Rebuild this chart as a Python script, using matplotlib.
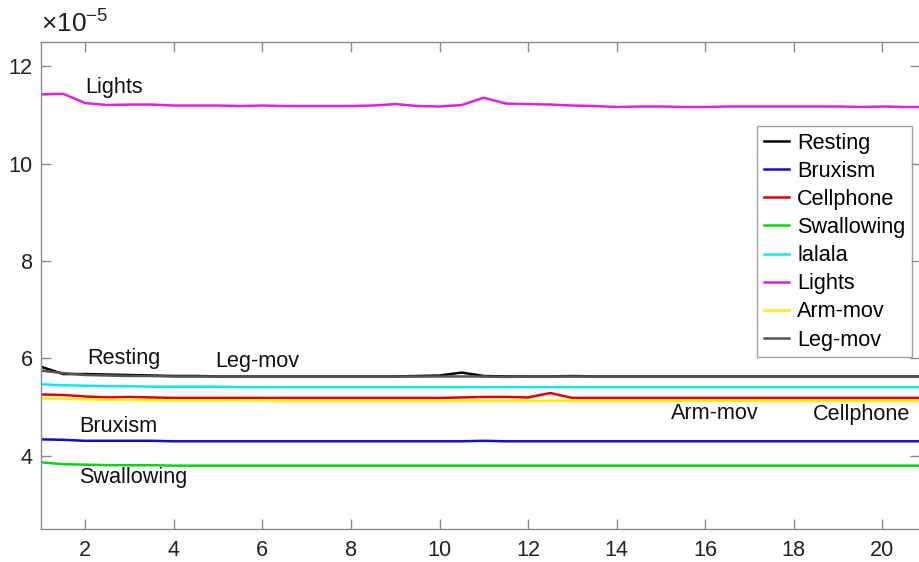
import numpy as np
import matplotlib
matplotlib.use("Agg")
import matplotlib.pyplot as plt
from matplotlib.ticker import FuncFormatter

plt.rcParams['font.family'] = ['Liberation Sans', 'DejaVu Sans']
plt.rcParams['mathtext.fontset'] = 'custom'
plt.rcParams['mathtext.rm'] = 'Liberation Sans'
plt.rcParams['mathtext.it'] = 'Liberation Sans'

epochs = [1, 1.5, 2, 2.5, 3, 3.5, 4, 4.5, 5, 5.5, 6, 6.5, 7, 7.5, 8, 8.5, 9, 9.5, 10, 10.5,
          11, 11.5, 12, 12.5, 13, 13.5, 14, 14.5, 15, 15.5, 16, 16.5, 17, 17.5, 18, 18.5,
          19, 19.5, 20, 20.5, 21]

# values in units of 1e-5
resting = [5.83, 5.68, 5.68, 5.67, 5.66, 5.65, 5.64, 5.64, 5.63, 5.63, 5.63, 5.63, 5.63, 5.63,
           5.63, 5.63, 5.63, 5.64, 5.65, 5.71, 5.64, 5.63, 5.63, 5.63, 5.64, 5.63, 5.63, 5.63,
           5.63, 5.63, 5.63, 5.63, 5.63, 5.63, 5.63, 5.63, 5.63, 5.63, 5.63, 5.63, 5.63]
bruxism = [4.34, 4.33, 4.31, 4.31, 4.31, 4.31, 4.30, 4.30, 4.30, 4.30, 4.30, 4.30, 4.30, 4.30,
           4.30, 4.30, 4.30, 4.30, 4.30, 4.30, 4.31, 4.30, 4.30, 4.30, 4.30, 4.30, 4.30, 4.30,
           4.30, 4.30, 4.30, 4.30, 4.30, 4.30, 4.30, 4.30, 4.30, 4.30, 4.30, 4.30, 4.30]
cellphone = [5.26, 5.25, 5.22, 5.20, 5.21, 5.20, 5.19, 5.19, 5.19, 5.19, 5.19, 5.19, 5.19, 5.19,
             5.19, 5.19, 5.19, 5.19, 5.19, 5.20, 5.21, 5.21, 5.20, 5.29, 5.19, 5.19, 5.19, 5.19,
             5.19, 5.19, 5.19, 5.19, 5.19, 5.19, 5.19, 5.19, 5.19, 5.19, 5.19, 5.19, 5.19]
swallowing = [3.87, 3.83, 3.82, 3.81, 3.81, 3.81, 3.80, 3.80, 3.80, 3.80, 3.80, 3.80, 3.80, 3.80,
              3.80, 3.80, 3.80, 3.80, 3.80, 3.80, 3.80, 3.80, 3.80, 3.80, 3.80, 3.80, 3.80, 3.80,
              3.80, 3.80, 3.80, 3.80, 3.80, 3.80, 3.80, 3.80, 3.80, 3.80, 3.80, 3.80, 3.80]
lalala = [5.47, 5.45, 5.44, 5.43, 5.43, 5.42, 5.42, 5.42, 5.42, 5.41, 5.41, 5.41, 5.41, 5.41,
          5.41, 5.41, 5.41, 5.41, 5.41, 5.41, 5.41, 5.41, 5.41, 5.41, 5.41, 5.41, 5.41, 5.41,
          5.41, 5.41, 5.41, 5.41, 5.41, 5.41, 5.41, 5.41, 5.41, 5.41, 5.41, 5.41, 5.41]
lights = [11.42, 11.43, 11.24, 11.20, 11.21, 11.21, 11.19, 11.19, 11.19, 11.18, 11.19, 11.18,
          11.18, 11.18, 11.18, 11.19, 11.22, 11.18, 11.17, 11.20, 11.35, 11.23, 11.22, 11.21,
          11.19, 11.18, 11.16, 11.17, 11.17, 11.16, 11.16, 11.17, 11.17, 11.17, 11.17, 11.17,
          11.17, 11.16, 11.17, 11.16, 11.16]
armmov = [5.18, 5.17, 5.16, 5.15, 5.15, 5.14, 5.14, 5.14, 5.14, 5.14, 5.14, 5.13, 5.13, 5.13,
          5.13, 5.13, 5.13, 5.13, 5.13, 5.13, 5.13, 5.13, 5.13, 5.13, 5.13, 5.13, 5.13, 5.13,
          5.13, 5.13, 5.13, 5.13, 5.13, 5.13, 5.13, 5.13, 5.13, 5.13, 5.13, 5.13, 5.13]
legmov = [5.75, 5.70, 5.66, 5.65, 5.64, 5.64, 5.63, 5.63, 5.63, 5.63, 5.63, 5.63, 5.63, 5.63,
          5.63, 5.63, 5.63, 5.63, 5.63, 5.63, 5.63, 5.62, 5.63, 5.63, 5.63, 5.63, 5.63, 5.63,
          5.63, 5.63, 5.63, 5.63, 5.63, 5.63, 5.63, 5.63, 5.63, 5.63, 5.63, 5.63, 5.63]

series_names = ['Resting', 'Bruxism', 'Cellphone', 'Swallowing', 'lalala', 'Lights', 'Arm-mov', 'Leg-mov']
series_vals = [resting, bruxism, cellphone, swallowing, lalala, lights, armmov, legmov]
colors = ['#000000', '#1010c8', '#e00000', '#10d010', '#10e8e8', '#e020e0', '#ffee00', '#555555']

annotations = [('Lights', 2.0, 11.55), ('Resting', 2.05, 6.0), ('Leg-mov', 4.93, 5.94),
               ('Bruxism', 1.87, 4.6), ('Swallowing', 1.87, 3.56), ('Arm-mov', 15.22, 4.88),
               ('Cellphone', 18.43, 4.84)]

scale = 1e-5
x = np.array(epochs)
fs = 15.6

fig = plt.figure(figsize=(9.2, 5.62), dpi=100)
ax = fig.add_axes([0.0446, 0.0587, 0.9554, 0.8671])

for name, vals, c in zip(series_names, series_vals, colors):
    ax.plot(x, np.array(vals) * scale, color=c, lw=1.8, label=name)

for txt, tx, ty in annotations:
    ax.text(tx, ty * scale, txt, fontsize=fs, ha='left', va='center', color='#111111')

ax.set_xlim(1, 20.85)
ax.set_ylim(2.5e-5, 12.5e-5)
ax.set_xticks([2, 4, 6, 8, 10, 12, 14, 16, 18, 20])
ax.set_yticks(np.array([4, 6, 8, 10, 12]) * scale)
ax.yaxis.set_major_formatter(FuncFormatter(lambda v, p: '%g' % round(v / scale, 6)))

spine_col = '#8a8a8a'
for s in ax.spines.values():
    s.set_color(spine_col)
    s.set_linewidth(1.0)
ax.tick_params(direction='in', length=7, width=1.0, color=spine_col, labelsize=fs,
               labelcolor='#222222', top=True, right=True)
ax.tick_params(axis='x', pad=8)
ax.tick_params(axis='y', pad=6)

ax.text(0.0, 1.008, r'$\times10^{-5}$', transform=ax.transAxes, fontsize=19,
        ha='left', va='bottom', color='#222222')

leg = ax.legend(loc='upper right', bbox_to_anchor=(912 / 920, 1 - 126 / 562),
                bbox_transform=fig.transFigure, fontsize=fs, frameon=True, fancybox=False,
                edgecolor='#8a8a8a', handlelength=1.15, handletextpad=0.4, labelspacing=0.33,
                borderpad=0.3, borderaxespad=0.0)
leg.get_frame().set_linewidth(1.0)

fig.savefig('out.png', dpi=100)
